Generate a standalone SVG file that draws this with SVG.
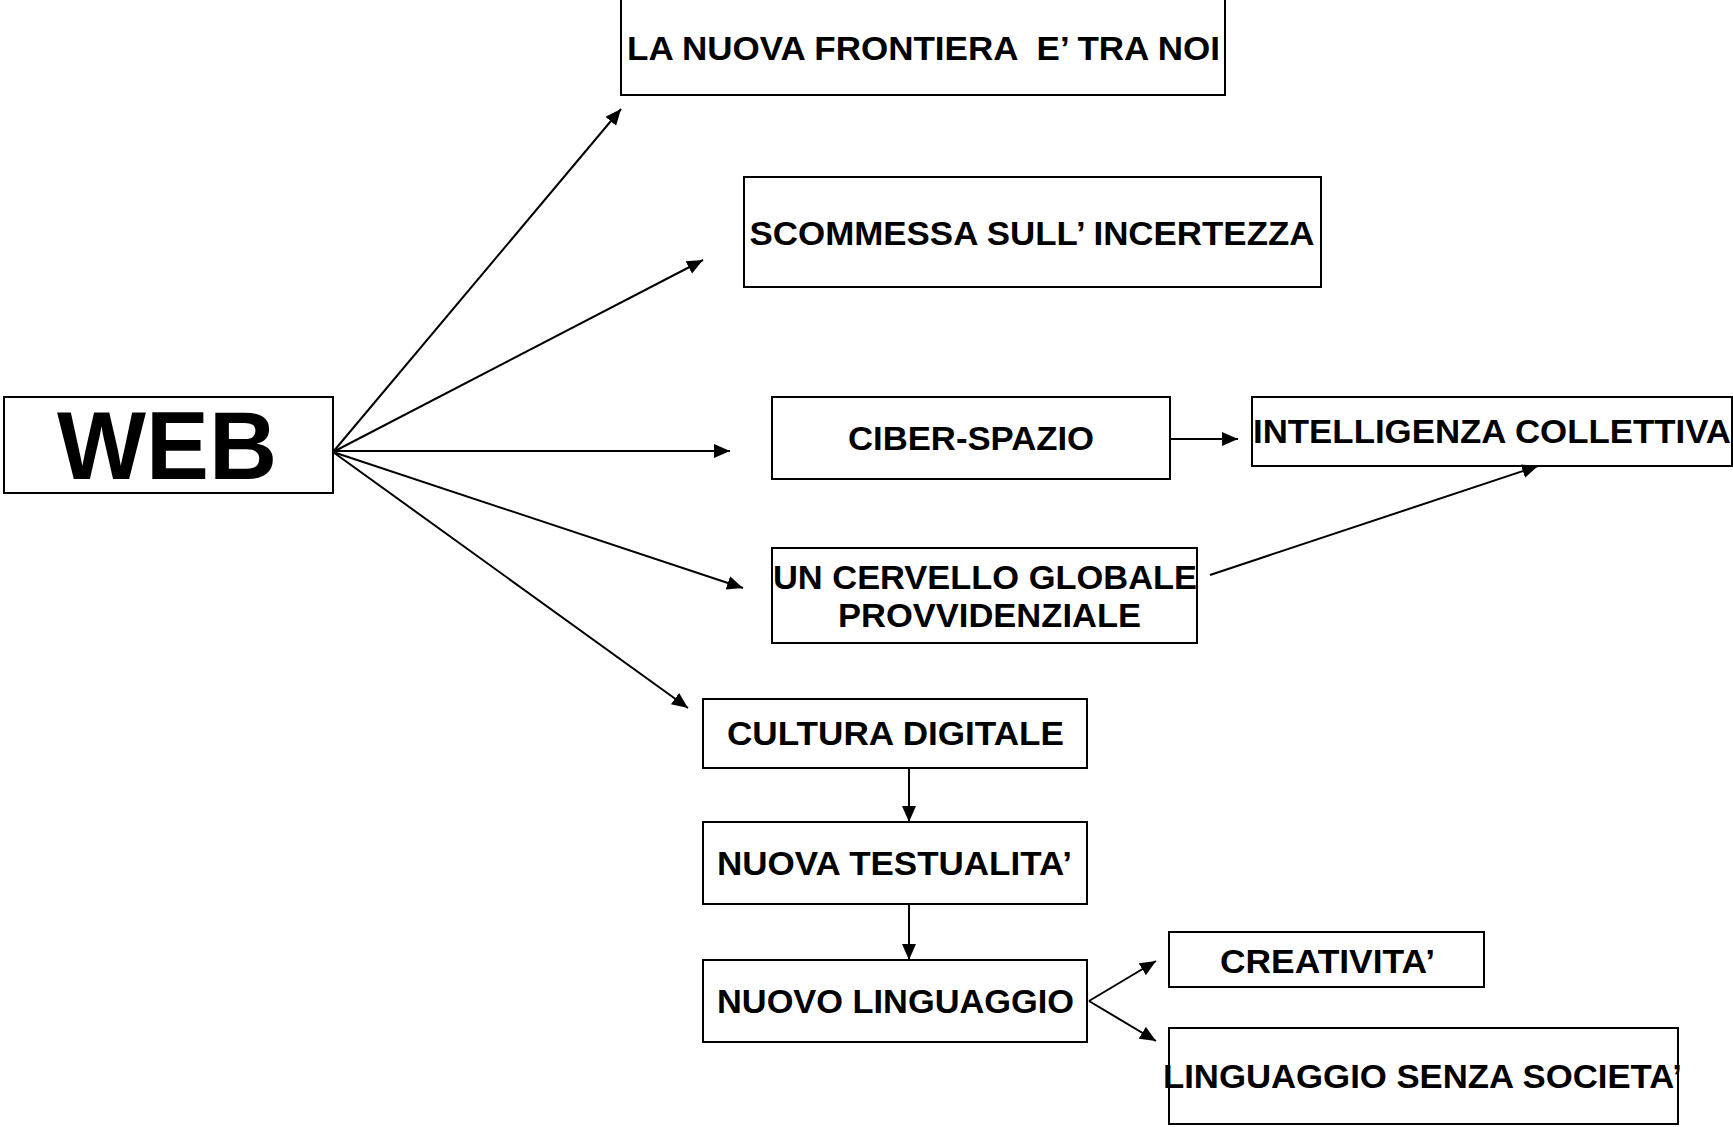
<svg xmlns="http://www.w3.org/2000/svg" width="1733" height="1127" viewBox="0 0 1733 1127">
<style>
rect.box{fill:#fff;stroke:#000;stroke-width:2}
text{font-family:"Liberation Sans",Arial,sans-serif;font-weight:bold;font-size:34px;fill:#000;text-anchor:middle}
.con line{stroke:#000;stroke-width:2;marker-end:url(#ah)}
</style>
<defs>
<marker id="ah" markerUnits="userSpaceOnUse" markerWidth="18" markerHeight="16" refX="16" refY="7" orient="auto"><path d="M0,0 L16,7 L0,14 z" fill="#000"/></marker>
</defs>
<rect width="1733" height="1127" fill="#fff"/>
<g id="web"><rect class="box" x="4" y="397" width="329" height="96"/><text x="167" y="479" style="font-size:96px" textLength="220" lengthAdjust="spacingAndGlyphs">WEB</text></g>
<g id="frontiera"><rect class="box" x="621" y="-5" width="604" height="100"/><text x="923.5" y="60" xml:space="preserve" style="white-space:pre" textLength="593" lengthAdjust="spacingAndGlyphs">LA NUOVA FRONTIERA  E’ TRA NOI</text></g>
<g id="scommessa"><rect class="box" x="744" y="177" width="577" height="110"/><text x="1032" y="245" textLength="565" lengthAdjust="spacingAndGlyphs">SCOMMESSA SULL’ INCERTEZZA</text></g>
<g id="ciberspazio"><rect class="box" x="772" y="397" width="398" height="82"/><text x="971" y="450" textLength="246" lengthAdjust="spacingAndGlyphs">CIBER-SPAZIO</text></g>
<g id="intelligenza"><rect class="box" x="1252" y="397" width="480" height="69"/><text x="1492" y="443" textLength="478" lengthAdjust="spacingAndGlyphs">INTELLIGENZA COLLETTIVA</text></g>
<g id="cervello"><rect class="box" x="772" y="548" width="425" height="95"/><text x="985" y="589" textLength="424" lengthAdjust="spacingAndGlyphs">UN CERVELLO GLOBALE</text><text x="989.5" y="627" textLength="303" lengthAdjust="spacingAndGlyphs">PROVVIDENZIALE</text></g>
<g id="cultura"><rect class="box" x="703" y="699" width="384" height="69"/><text x="895.5" y="745" textLength="337" lengthAdjust="spacingAndGlyphs">CULTURA DIGITALE</text></g>
<g id="testualita"><rect class="box" x="703" y="822" width="384" height="82"/><text x="894.5" y="875" textLength="355" lengthAdjust="spacingAndGlyphs">NUOVA TESTUALITA’</text></g>
<g id="linguaggio"><rect class="box" x="703" y="960" width="384" height="82"/><text x="895.5" y="1013" textLength="357" lengthAdjust="spacingAndGlyphs">NUOVO LINGUAGGIO</text></g>
<g id="creativita"><rect class="box" x="1169" y="932" width="315" height="55"/><text x="1327.5" y="973" textLength="215" lengthAdjust="spacingAndGlyphs">CREATIVITA’</text></g>
<g id="senzasocieta"><rect class="box" x="1169" y="1028" width="509" height="96"/><text x="1422.5" y="1088" textLength="519" lengthAdjust="spacingAndGlyphs">LINGUAGGIO SENZA SOCIETA’</text></g>
<g id="connectors" class="con">
<line x1="333" y1="452" x2="621" y2="109"/>
<line x1="333" y1="452" x2="703" y2="260"/>
<line x1="333" y1="451" x2="730" y2="451"/>
<line x1="333" y1="452" x2="743" y2="588"/>
<line x1="333" y1="452" x2="688" y2="708"/>
<line x1="1170" y1="439" x2="1238" y2="439"/>
<line x1="1210" y1="575" x2="1538" y2="466"/>
<line x1="909" y1="768" x2="909" y2="822"/>
<line x1="909" y1="904" x2="909" y2="960"/>
<line x1="1089" y1="1001" x2="1156" y2="961"/>
<line x1="1089" y1="1001" x2="1156" y2="1041"/>
</g>
</svg>
